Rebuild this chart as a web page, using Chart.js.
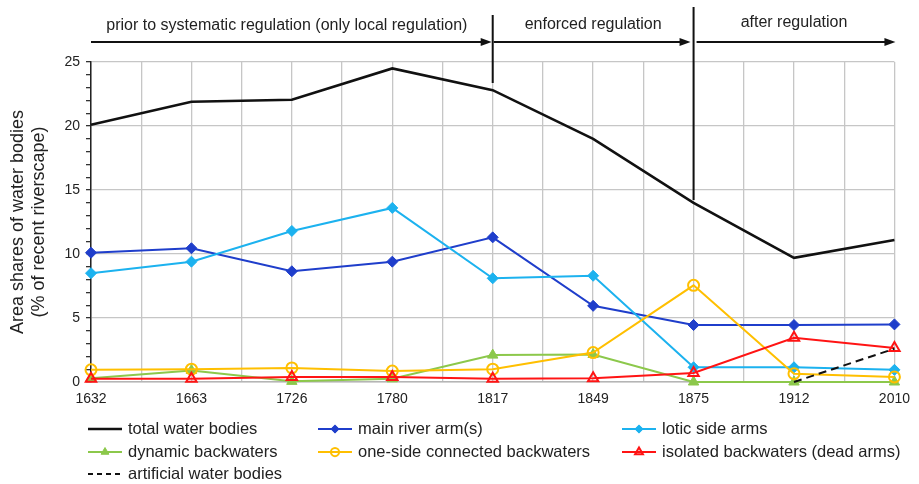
<!DOCTYPE html>
<html>
<head>
<meta charset="utf-8">
<script src="https://cdn.jsdelivr.net/npm/chart.js@4/dist/chart.umd.min.js"></script>
<style>
  html, body { margin: 0; padding: 0; background: #fff; }
  #wrap { width: 919px; height: 484px; position: relative; }
</style>
</head>
<body>
<div id="wrap"><canvas id="riverChart"></canvas></div>
<script>
// Years of the historical maps (equally spaced on the x axis)
const years = ['1632', '1663', '1726', '1780', '1817', '1849', '1875', '1912', '2010'];

// Area shares (% of recent riverscape)
const totalWater = [20.1, 21.9, 22.05, 24.5, 22.8, 19.0, 14.0, 9.7, 11.1];
const mainArms = [10.1, 10.45, 8.65, 9.4, 11.3, 5.95, 4.45, 4.45, 4.5];
const loticArms = [8.5, 9.4, 11.8, 13.6, 8.1, 8.3, 1.15, 1.15, 0.95];
const dynamicBack = [0.3, 0.9, 0.05, 0.25, 2.1, 2.15, 0, 0, 0];
const oneSideBack = [0.95, 1.0, 1.1, 0.85, 1.0, 2.3, 7.55, 0.65, 0.4];
const isolatedBack = [0.25, 0.25, 0.4, 0.4, 0.25, 0.3, 0.7, 3.45, 2.65];
const artificial = [null, null, null, null, null, null, null, 0, 2.6];

const periods = ['prior to systematic regulation (only local regulation)', 'enforced regulation', 'after regulation'];
const yTicks = [0, 5, 10, 15, 20, 25];

const toPoints = arr => arr.map((v, i) => ({ x: i, y: v }));

const mk = (label, data, color, extra) => Object.assign({
  label: label,
  data: toPoints(data),
  borderColor: color,
  backgroundColor: color,
  borderWidth: 2,
  pointBorderColor: color,
  pointBorderWidth: 2,
  tension: 0,
  fill: false,
  clip: false
}, extra);

const datasets = [
  mk('total water bodies', totalWater, '#111', { borderWidth: 2.6, pointRadius: 0 }),
  mk('main river arm(s)', mainArms, '#1f3ecb', { pointStyle: 'rectRot', pointRadius: 5.5, pointBorderWidth: 1 }),
  mk('lotic side arms', loticArms, '#1cb2ef', { pointStyle: 'rectRot', pointRadius: 5.5, pointBorderWidth: 1 }),
  mk('dynamic backwaters', dynamicBack, '#8cc84b', { pointStyle: 'triangle', pointRadius: 6, pointBorderWidth: 1 }),
  mk('one-side connected backwaters', oneSideBack, '#ffbf00', { pointStyle: 'circle', pointRadius: 5.5, pointBackgroundColor: 'rgba(255,255,255,0)' }),
  mk('isolated backwaters (dead arms)', isolatedBack, '#ff1414', { pointStyle: 'triangle', pointRadius: 6, pointBackgroundColor: 'rgba(255,255,255,0)' }),
  mk('artificial water bodies', artificial, '#111', { borderDash: [8, 5], pointRadius: 0, spanGaps: false })
];
// later series drawn on top
datasets.forEach((d, i) => { d.order = 10 - i; });

function drawMarker(ctx, style, x, y, r, stroke, fillCol, lw) {
  ctx.save();
  ctx.beginPath();
  if (style === 'rectRot') {
    ctx.moveTo(x, y - r); ctx.lineTo(x + r, y); ctx.lineTo(x, y + r); ctx.lineTo(x - r, y); ctx.closePath();
  } else if (style === 'triangle') {
    ctx.moveTo(x, y - r); ctx.lineTo(x + r * 0.87, y + r * 0.5); ctx.lineTo(x - r * 0.87, y + r * 0.5); ctx.closePath();
  } else if (style === 'circle') {
    ctx.arc(x, y, r, 0, Math.PI * 2);
  }
  ctx.fillStyle = fillCol;
  ctx.fill();
  ctx.lineWidth = lw;
  ctx.strokeStyle = stroke;
  ctx.stroke();
  ctx.restore();
}

// arrows + period labels above the plot
const periodPlugin = {
  id: 'periods',
  afterDraw(chart) {
    const { ctx, chartArea } = chart;
    const xs = chart.scales.x;
    const x1817 = xs.getPixelForValue(4);
    const x1875 = xs.getPixelForValue(6);
    const ay = 42;
    ctx.save();
    ctx.strokeStyle = '#111';
    ctx.fillStyle = '#111';
    ctx.lineWidth = 2;
    const arrow = (a, b) => {
      ctx.beginPath();
      ctx.moveTo(a, ay); ctx.lineTo(b - 8, ay); ctx.stroke();
      ctx.beginPath();
      ctx.moveTo(b, ay); ctx.lineTo(b - 11, ay - 4); ctx.lineTo(b - 11, ay + 4); ctx.closePath(); ctx.fill();
    };
    arrow(chartArea.left, x1817 - 1);
    arrow(x1817 + 1, x1875 - 3);
    arrow(x1875 + 3, chartArea.right + 1);
    ctx.beginPath();
    ctx.moveTo(x1817, 15); ctx.lineTo(x1817, 83);
    ctx.moveTo(x1875, 7); ctx.lineTo(x1875, 200);
    ctx.stroke();
    ctx.font = '16px "Liberation Sans", Arial, sans-serif';
    ctx.fillStyle = '#222';
    ctx.textAlign = 'center';
    ctx.textBaseline = 'middle';
    ctx.fillText(periods[0], (chartArea.left + x1817) / 2 - 5, 26);
    ctx.fillText(periods[1], (x1817 + x1875) / 2, 25);
    ctx.fillText(periods[2], (x1875 + chartArea.right) / 2, 23);
    ctx.restore();
  }
};

// three-column legend under the axis
const legendPlugin = {
  id: 'gridLegend',
  afterDraw(chart) {
    const { ctx } = chart;
    const colX = [88, 318, 622];
    const rowY = [429, 452, 474];
    ctx.save();
    ctx.font = '16.5px "Liberation Sans", Arial, sans-serif';
    ctx.textBaseline = 'middle';
    chart.data.datasets.forEach((ds, i) => {
      const x = colX[i % 3];
      const y = rowY[Math.floor(i / 3)];
      ctx.save();
      ctx.strokeStyle = ds.borderColor;
      ctx.lineWidth = ds.borderWidth;
      ctx.setLineDash(ds.borderDash ? [5, 4] : []);
      ctx.beginPath();
      ctx.moveTo(x, y); ctx.lineTo(x + 34, y);
      ctx.stroke();
      ctx.restore();
      if (ds.pointRadius > 0) {
        const fillCol = ds.pointBackgroundColor || ds.borderColor;
        drawMarker(ctx, ds.pointStyle, x + 17, y, ds.pointRadius * 0.75, ds.borderColor, fillCol, ds.pointBorderWidth);
      }
      ctx.fillStyle = '#222';
      ctx.fillText(ds.label, x + 40, y);
    });
    ctx.restore();
  }
};

Chart.defaults.font.family = '"Liberation Sans", Arial, sans-serif';
Chart.defaults.color = '#222';

const ctx = document.getElementById('riverChart').getContext('2d');
const chart = new Chart(ctx, {
  type: 'line',
  data: { datasets: datasets },
  options: {
    responsive: true,
    maintainAspectRatio: false,
    animation: false,
    layout: { padding: { top: 62, right: 21, bottom: 72, left: 0 } },
    plugins: {
      legend: { display: false },
      tooltip: { enabled: false }
    },
    scales: {
      x: {
        type: 'linear',
        min: 0,
        max: years.length - 1,
        ticks: {
          stepSize: 0.5,
          autoSkip: false,
          maxRotation: 0,
          padding: 9,
          font: { size: 14 },
          callback: v => Number.isInteger(v) ? years[v] : ''
        },
        grid: { color: '#c6c6c6', lineWidth: 1.3, drawTicks: false },
        border: { color: '#b5b5b5', width: 1.5 },
        afterFit(s) { s.height = 30; }
      },
      y: {
        min: 0,
        max: 25,
        ticks: {
          stepSize: 1,
          autoSkip: false,
          padding: 6,
          font: { size: 14 },
          callback: v => yTicks.includes(v) ? v : ''
        },
        grid: {
          color: c => (c.tick && yTicks.includes(c.tick.value)) ? '#c6c6c6' : 'rgba(0,0,0,0)',
          lineWidth: 1.3,
          tickColor: '#333',
          tickLength: 5
        },
        border: { color: '#222', width: 1.5 },
        title: {
          display: true,
          text: ['Area shares of water bodies', '(% of recent riverscape)'],
          font: { size: 18 },
          padding: { top: 7, bottom: 0 }
        },
        afterFit(s) { s.width = 91; }
      }
    }
  },
  plugins: [periodPlugin, legendPlugin]
});
</script>
</body>
</html>
